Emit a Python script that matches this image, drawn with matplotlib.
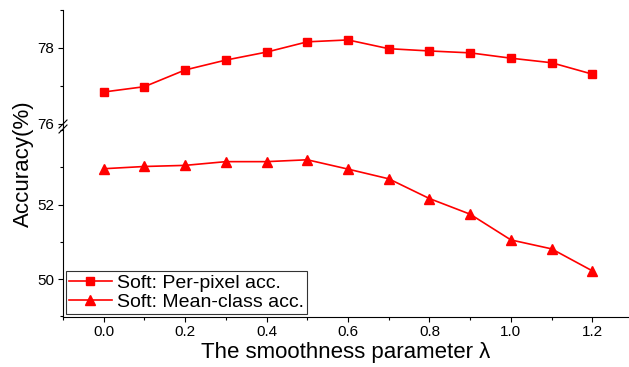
import matplotlib
matplotlib.use('Agg')
import matplotlib.pyplot as plt
from matplotlib.ticker import MultipleLocator
from matplotlib.lines import Line2D

plt.rcParams['font.family'] = ['Liberation Sans', 'DejaVu Sans']

# datos
lam = [0.0, 0.1, 0.2, 0.3, 0.4, 0.5, 0.6, 0.7, 0.8, 0.9, 1.0, 1.1, 1.2]
per_pixel = [76.84, 76.98, 77.42, 77.68, 77.89, 78.16, 78.21, 77.98, 77.92, 77.87, 77.73, 77.61, 77.31]
mean_class = [52.96, 53.02, 53.05, 53.15, 53.15, 53.2, 52.95, 52.69, 52.16, 51.74, 51.05, 50.81, 50.22]

rojo = '#ff0000'

fig = plt.figure(figsize=(6.29, 3.67), dpi=100)
# eje de arriba (parte 76-79) y eje de abajo (parte 49-54)
ax_top = fig.add_axes([0.1, 0.654, 0.9, 0.319])
ax_bot = fig.add_axes([0.1, 0.136, 0.9, 0.518], sharex=ax_top)

ax_top.plot(lam, per_pixel, color=rojo, lw=1.2, marker='s', ms=6, label='Soft: Per-pixel acc.')
ax_bot.plot(lam, mean_class, color=rojo, lw=1.2, marker='^', ms=7, label='Soft: Mean-class acc.')

ax_top.set_ylim(75.92, 79)
ax_bot.set_ylim(48.98, 54.08)
ax_bot.set_xlim(-0.1, 1.29)

for ax in (ax_top, ax_bot):
    ax.spines['top'].set_visible(False)
    ax.spines['right'].set_visible(False)
    ax.patch.set_alpha(0)
    ax.tick_params(which='major', direction='out', length=3.5, width=0.8, labelsize=11, pad=2.5)
    ax.tick_params(which='minor', direction='out', length=2.2, width=0.8)
    ax.yaxis.set_major_locator(MultipleLocator(2))
    ax.yaxis.set_minor_locator(MultipleLocator(1))

ax_top.spines['bottom'].set_visible(False)
ax_top.tick_params(axis='x', which='both', bottom=False, labelbottom=False)
ax_top.set_yticks([76, 78])

ax_bot.set_yticks([50, 52])
ax_bot.xaxis.set_major_locator(MultipleLocator(0.2))
ax_bot.xaxis.set_minor_locator(MultipleLocator(0.1))
ax_bot.xaxis.set_major_formatter(matplotlib.ticker.FormatStrFormatter('%.1f'))
ax_bot.set_xlabel('The smoothness parameter λ', fontsize=16, labelpad=2)

fig.text(0.037, 0.554, 'Accuracy(%)', rotation=90, fontsize=16, ha='center', va='center')

# marca de corte del eje
W, H = 629, 367
for dy in (0, 5):
    fig.add_artist(Line2D([(59) / W, (67) / W], [1 - (133 - dy) / H, 1 - (125 - dy) / H],
                          color='black', lw=0.8, transform=fig.transFigure))

h1, l1 = ax_top.get_legend_handles_labels()
h2, l2 = ax_bot.get_legend_handles_labels()
leg = ax_bot.legend(h1 + h2, l1 + l2, loc='lower left', fontsize=14, frameon=True,
                    fancybox=False, edgecolor='black', borderpad=0.15, labelspacing=0.1,
                    handlelength=2.2, handletextpad=0.3, borderaxespad=0.15)
leg.get_frame().set_linewidth(0.8)

fig.savefig('out.png', dpi=100)
